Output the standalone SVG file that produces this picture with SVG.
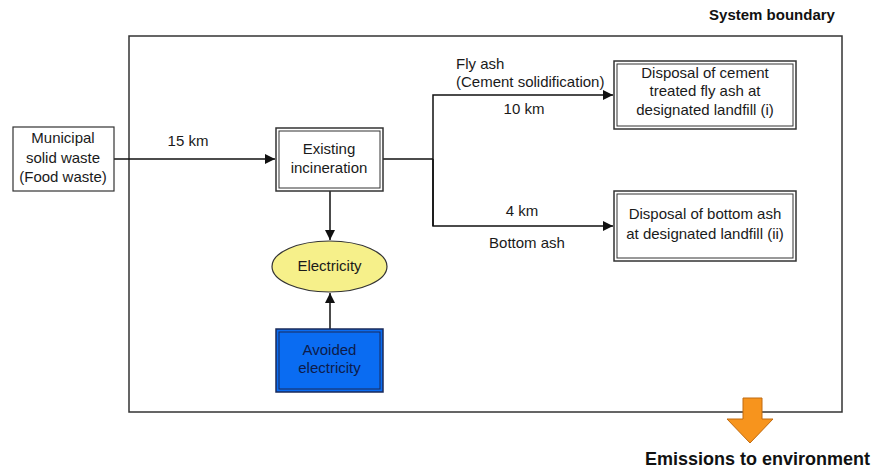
<svg xmlns="http://www.w3.org/2000/svg" width="875" height="469" viewBox="0 0 875 469">
<style>
text{font-family:"Liberation Sans",Arial,sans-serif;font-size:15px;fill:#1a1a1a;text-anchor:middle}
.b{font-weight:bold;fill:#111}
.l{text-anchor:start}
.bx{fill:#fff;stroke:#333;stroke-width:1.5}
.in{fill:none;stroke:#333;stroke-width:1}
.ln{fill:none;stroke:#111;stroke-width:1.5}
</style>
<defs>
<marker id="ah" viewBox="0 0 10 10" refX="10" refY="5" markerWidth="10" markerHeight="10" markerUnits="userSpaceOnUse" orient="auto">
<path d="M0,0 L10,5 L0,10 z" fill="#111"/>
</marker>
</defs>
<rect width="875" height="469" fill="#fff"/>
<g id="boundary">
<rect x="129" y="36" width="713" height="376" fill="none" stroke="#333" stroke-width="1.5"/>
<text class="b" x="772" y="20">System boundary</text>
</g>
<g id="connectors">
<line class="ln" x1="114" y1="159" x2="275" y2="159" marker-end="url(#ah)"/>
<polyline class="ln" points="383,159 433,159"/>
<polyline class="ln" points="433,226 433,95 613,95" marker-end="url(#ah)"/>
<polyline class="ln" points="433,159 433,226 613,226" marker-end="url(#ah)"/>
<line class="ln" x1="330" y1="191" x2="330" y2="240" marker-end="url(#ah)"/>
<line class="ln" x1="330" y1="329" x2="330" y2="293" marker-end="url(#ah)"/>
<text x="188" y="146">15 km</text>
<text class="l" x="456" y="69">Fly ash</text>
<text class="l" x="456" y="87">(Cement solidification)</text>
<text x="524" y="114">10 km</text>
<text x="522" y="216">4 km</text>
<text x="527" y="248">Bottom ash</text>
</g>
<g id="msw">
<rect x="13" y="127" width="101" height="64" fill="#fff" stroke="#333" stroke-width="1.2"/>
<text x="63" y="143">Municipal</text>
<text x="63" y="163">solid waste</text>
<text x="63" y="182">(Food waste)</text>
</g>
<g id="incineration">
<rect class="bx" x="276" y="128" width="107" height="63"/>
<rect class="in" x="279" y="131" width="101" height="57"/>
<text x="329" y="154">Existing</text>
<text x="329" y="173">incineration</text>
</g>
<g id="electricity">
<ellipse cx="329.5" cy="266.5" rx="57.5" ry="25.5" fill="#f6f08a" stroke="#333" stroke-width="1.2"/>
<text x="329.5" y="271">Electricity</text>
</g>
<g id="avoided">
<rect x="276" y="329" width="107" height="63" fill="#0a6cf2" stroke="#1a2a5a" stroke-width="1.5"/>
<rect x="279" y="332" width="101" height="57" fill="none" stroke="#1a2a5a" stroke-width="1"/>
<text x="329.5" y="355" style="fill:#0d1b4a">Avoided</text>
<text x="329.5" y="373" style="fill:#0d1b4a">electricity</text>
</g>
<g id="flyash-landfill">
<rect class="bx" x="614" y="61" width="182" height="68"/>
<rect class="in" x="617" y="64" width="176" height="62"/>
<text x="705" y="78">Disposal of cement</text>
<text x="705" y="96">treated fly ash at</text>
<text x="705" y="115">designated landfill (i)</text>
</g>
<g id="bottomash-landfill">
<rect class="bx" x="614" y="191" width="182" height="70"/>
<rect class="in" x="617" y="194" width="176" height="64"/>
<text x="705" y="219">Disposal of bottom ash</text>
<text x="705" y="239">at designated landfill (ii)</text>
</g>
<g id="emissions">
<path d="M743,398 H762 V419 H773 L750,443 L727,419 H743 Z" fill="#f7941d" stroke="#c06a10" stroke-width="1"/>
<text class="b" x="645" y="465" style="text-anchor:start;font-size:18px">Emissions to environment</text>
</g>
</svg>
